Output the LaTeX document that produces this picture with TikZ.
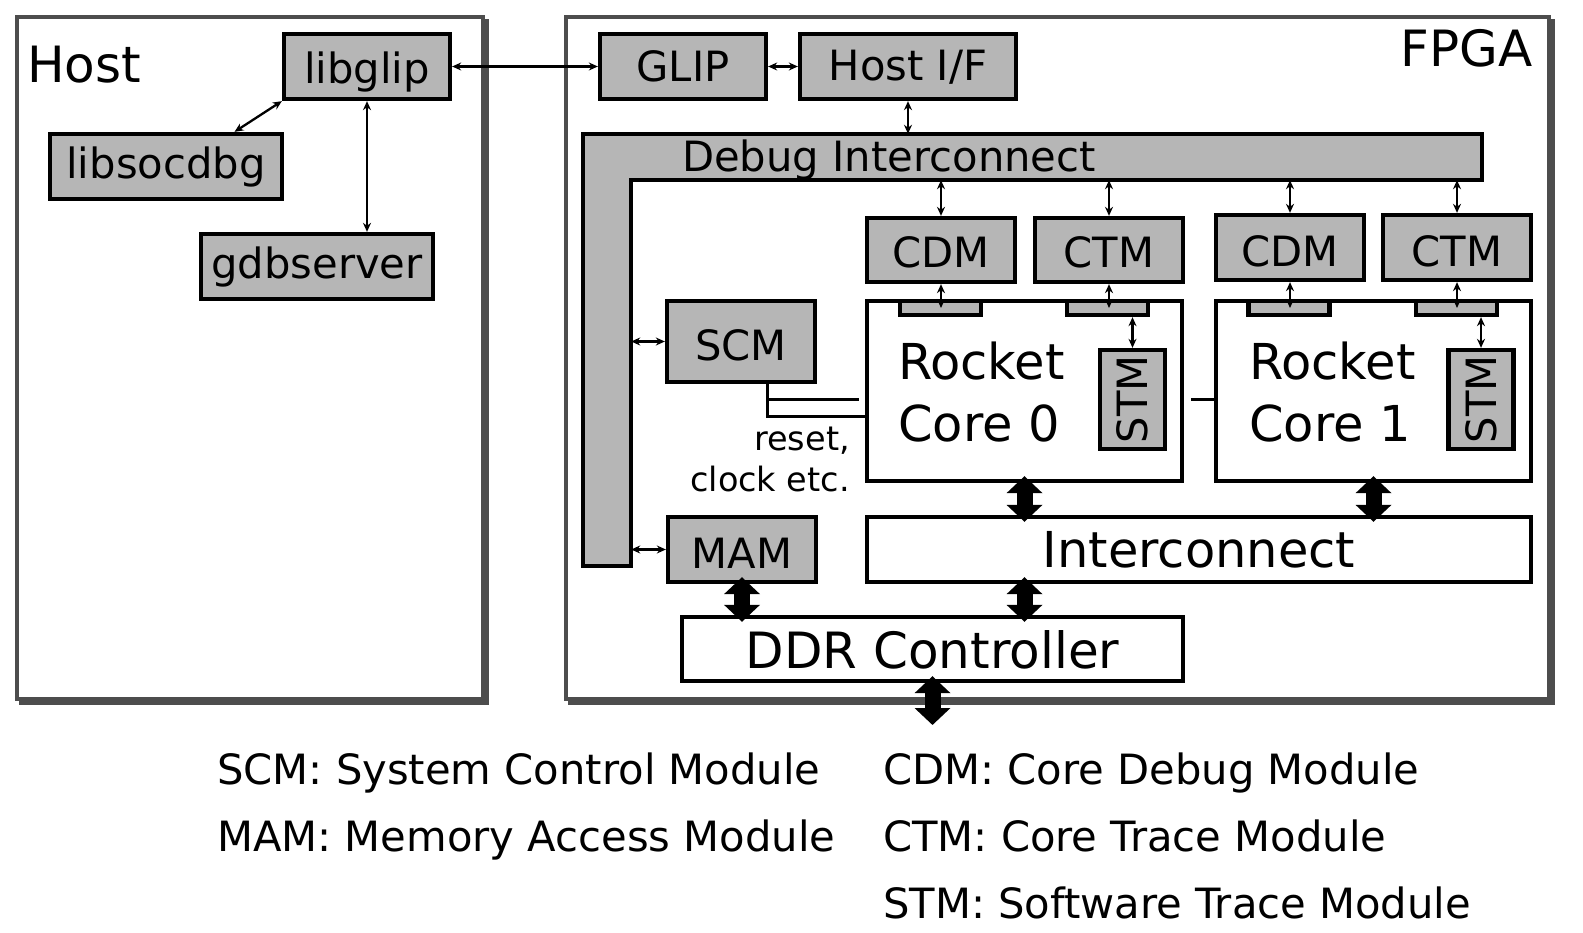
\documentclass[tikz,border=0pt]{standalone}
\usepackage{fontspec}
\usepackage{graphicx}
\setmainfont{DejaVu Sans}
\usetikzlibrary{arrows.meta,calc}
\definecolor{boxgray}{RGB}{182,182,182}
\definecolor{framegray}{RGB}{77,77,77}
\tikzset{
 fs/.style={font=\fontsize{#1}{#1}\selectfont},
 gbox/.style={draw, line width=4.3pt, fill=boxgray, inner sep=0pt, fs=41.7, text depth=0pt},
 wbox/.style={draw, line width=4.3pt, fill=white, inner sep=0pt, text depth=0pt},
 sarrow/.style={line width=2.3pt, {Stealth[length=9pt,width=8pt]}-{Stealth[length=9pt,width=8pt]}},
 barrow/.style={line width=16pt, {Triangle[length=17pt,width=35pt]}-{Triangle[length=17pt,width=35pt]}, shorten <=-7pt, shorten >=-7pt},
 frame/.style={draw=framegray, line width=4pt},
 txt/.style={inner sep=0pt, anchor=base west},
 bus/.style={line width=3pt},
}
\begin{document}
\begin{tikzpicture}[x=1pt,y=-1pt]
\useasboundingbox (0,0) rectangle (1583,933);
% frames
\draw[frame] (21,21) rectangle (487,703);
\draw[frame, fill=white] (17,17) rectangle (483,699);
\draw[frame] (570,21) rectangle (1553,703);
\draw[frame, fill=white] (566,17) rectangle (1549,699);
% debug interconnect
\node[fill=boxgray, inner sep=0pt, minimum width=899pt, minimum height=46pt] (dbgH) at (1032.5,157) {};
\node[fill=boxgray, inner sep=0pt, minimum width=48pt, minimum height=432pt] (dbgV) at (607,350) {};
\draw[line width=4.3pt, line join=miter] (dbgH.north west) -- (dbgH.north east) -- (dbgH.south east) -- (dbgH.south -| dbgV.east) -- (dbgV.south east) -- (dbgV.south west) -- cycle;
\node[txt, fs=41.7] (dbgtxt) at (682,172) {Debug Interconnect};
% host boxes
\node[gbox, minimum width=166pt, minimum height=65pt, text height=34pt] (libglip) at (367,66.5) {libglip};
\node[gbox, minimum width=232pt, minimum height=65pt, text height=24pt] (libsocdbg) at (166,166.5) {libsocdbg};
\node[gbox, minimum width=232pt, minimum height=65pt, text height=24pt] (gdbserver) at (317,266.5) {gdbserver};
% fpga boxes
\node[gbox, minimum width=166pt, minimum height=65pt, text height=30pt] (glip) at (683,66.5) {GLIP};
\node[gbox, minimum width=216pt, minimum height=65pt, text height=28pt] (hostif) at (908,66.5) {Host I/F};
\node[gbox, minimum width=148pt, minimum height=64pt, text height=36pt] (cdm0) at (941,250) {CDM};
\node[gbox, minimum width=148pt, minimum height=64pt, text height=36pt] (ctm0) at (1109,250) {CTM};
\node[gbox, minimum width=148pt, minimum height=65pt, text height=38pt] (cdm1) at (1290,247.5) {CDM};
\node[gbox, minimum width=148pt, minimum height=65pt, text height=38pt] (ctm1) at (1457,247.5) {CTM};
\node[gbox, minimum width=148pt, minimum height=81pt, text height=37pt] (scm) at (741,341.5) {SCM};
\node[gbox, minimum width=148pt, minimum height=65pt, text height=37pt] (mam) at (742,549.5) {MAM};
\node[wbox, minimum width=315pt, minimum height=180pt] (core0) at (1024.5,391) {};
\node[wbox, minimum width=315pt, minimum height=180pt] (core1) at (1373.5,391) {};
\node[gbox, minimum width=81pt, minimum height=14pt] (t00) at (940.5,308) {};
\node[gbox, minimum width=81pt, minimum height=14pt] (t01) at (1107.5,308) {};
\node[gbox, minimum width=81pt, minimum height=14pt] (t10) at (1289,308) {};
\node[gbox, minimum width=81pt, minimum height=14pt] (t11) at (1456.5,308) {};
\node[gbox, minimum width=65pt, minimum height=99pt] (stm0) at (1132.5,399.5) {\rotatebox{90}{STM}};
\node[gbox, minimum width=65pt, minimum height=99pt] (stm1) at (1481,399.5) {\rotatebox{90}{STM}};
\node[wbox, fs=49.5, minimum width=664pt, minimum height=65pt, text height=35pt] (inter) at (1199,549.5) {Interconnect\hspace{16pt}};
\node[wbox, fs=50, minimum width=501pt, minimum height=64pt, text height=38pt] (ddr) at (932.5,649) {DDR Controller};
% core texts
\node[txt, fs=49.5] (r0a) at (898,380) {Rocket};
\node[txt, fs=49.5] (r0b) at (898,441) {Core 0};
\node[txt, fs=49.5] (r1a) at (1249,380) {Rocket};
\node[txt, fs=49.5] (r1b) at (1249,441) {Core 1};
% bus lines
\coordinate (busA) at (767,399);
\coordinate (busAend) at (859,399);
\coordinate (busB) at (767,416);
\coordinate (stub) at (1191,399);
\draw[bus] (scm.south -| busA) -- (busB) -- (busB -| core0.west);
\draw[bus] (busA) -- (busAend);
\draw[bus] (stub) -- (stub -| core1.west);
\node[inner sep=0pt, anchor=base east, fs=33.5] (rst) at (850,450) {reset,};
\node[inner sep=0pt, anchor=base east, fs=33.5] (clk) at (850,491) {clock etc.};
% small arrows
\draw[sarrow] (libglip.east) -- (glip.west);
\draw[sarrow] (libglip.south west) -- ($(libsocdbg.north west)!0.79!(libsocdbg.north east)$);
\draw[sarrow] (libglip.south) -- (libglip.south |- gdbserver.north);
\draw[sarrow] (glip.east) -- (hostif.west);
\draw[sarrow] (hostif.south) -- (hostif.south |- dbgH.north);
\foreach \m in {cdm0,ctm0,cdm1,ctm1}{\draw[sarrow] (\m.north) -- (\m.north |- dbgH.south);}
\draw[sarrow] (cdm0.south) -- (cdm0.south |- t00.center);
\draw[sarrow] (ctm0.south) -- (ctm0.south |- t01.center);
\draw[sarrow] (cdm1.south) -- (cdm1.south |- t10.center);
\draw[sarrow] (ctm1.south) -- (ctm1.south |- t11.center);
\draw[sarrow] (stm0.north) -- (stm0.north |- t01.south);
\draw[sarrow] (stm1.north) -- (stm1.north |- t11.south);
\draw[sarrow] (dbgV.east |- scm.west) -- (scm.west);
\draw[sarrow] (dbgV.east |- mam.west) -- (mam.west);
% big arrows
\draw[barrow] (core0.south) -- (core0.south |- inter.north);
\draw[barrow] (core1.south) -- (core1.south |- inter.north);
\draw[barrow] (mam.south) -- (mam.south |- ddr.north);
\draw[barrow] (core0.south |- inter.south) -- (core0.south |- ddr.north);
\coordinate (ext) at (932.5,725);
\draw[barrow, shorten >=0pt] (ddr.south) -- (ext);
% titles
\node[txt, fs=50] (host) at (27,83) {Host};
\node[inner sep=0pt, anchor=base east, fs=50] (fpga) at (1533,67) {FPGA};
% legend
\node[txt, fs=41.7] (lg1) at (217,784) {SCM: System Control Module};
\node[txt, fs=41.7] (lg2) at (217,851) {MAM: Memory Access Module};
\node[txt, fs=41.7] (lg3) at (883,784) {CDM: Core Debug Module};
\node[txt, fs=41.7] (lg4) at (883,851) {CTM: Core Trace Module};
\node[txt, fs=41.7] (lg5) at (883,918) {STM: Software Trace Module};
\end{tikzpicture}
\end{document}
